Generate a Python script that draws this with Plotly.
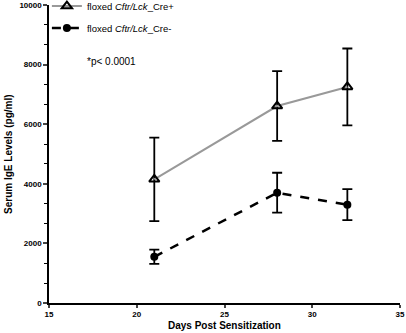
import plotly.graph_objects as go

days = [21, 28, 32]
cre_pos = [4150, 6610, 7250]
cre_pos_err = [1400, 1170, 1290]
cre_neg = [1550, 3700, 3300]
cre_neg_err = [240, 670, 520]

names = ["floxed <i>Cftr/Lck</i>_Cre+", "floxed <i>Cftr/Lck</i>_Cre-"]
x_ticks = [15, 20, 25, 30, 35]
y_ticks = [0, 2000, 4000, 6000, 8000, 10000]
y_tick_text = [str(v) for v in y_ticks]
pval_text = "*p< 0.0001"
x_title = "<b>Days Post Sensitization</b>"
y_title = "<b>Serum IgE Levels (pg/ml)</b>"

FONT = "Liberation Sans, Arial, sans-serif"

fig = go.Figure()
fig.add_trace(go.Scatter(
    x=days, y=cre_pos, name=names[0], legendgroup="a",
    mode="lines+markers",
    line=dict(color="#999999", width=2),
    marker=dict(symbol="triangle-up-open", size=9, color="black", line=dict(width=2, color="black")),
    error_y=dict(type="data", array=cre_pos_err, color="black", thickness=1.8, width=5),
))
fig.add_trace(go.Scatter(
    x=days, y=cre_neg, name=names[1], legendgroup="b",
    mode="lines+markers",
    line=dict(color="black", width=2.5, dash="dash"),
    marker=dict(symbol="circle", size=8, color="black"),
    error_y=dict(type="data", array=cre_neg_err, color="black", thickness=1.8, width=5),
))

fig.add_annotation(
    text=pval_text, xref="paper", yref="paper", x=0.103, y=0.81,
    xanchor="left", yanchor="middle", showarrow=False,
    font=dict(family=FONT, size=10, color="black"),
)
fig.add_annotation(
    text=x_title, xref="paper", yref="paper", x=0.5, y=-0.074,
    xanchor="center", yanchor="middle", showarrow=False,
    font=dict(family=FONT, size=10, color="black"),
)
fig.add_annotation(
    text=y_title, xref="paper", yref="paper", x=-0.117, y=0.5,
    xanchor="center", yanchor="middle", showarrow=False, textangle=-90,
    font=dict(family=FONT, size=10, color="black"),
)

fig.update_layout(
    width=406, height=333,
    margin=dict(l=49, r=6, t=5, b=30, autoexpand=False),
    paper_bgcolor="white", plot_bgcolor="white",
    font=dict(family=FONT, color="black"),
    showlegend=True,
    hovermode=False,
    legend=dict(
        x=-0.006, y=1.045, xanchor="left", yanchor="top",
        bgcolor="rgba(0,0,0,0)", font=dict(family=FONT, size=9.5),
        traceorder="grouped", tracegroupgap=3, itemwidth=30,
    ),
    xaxis=dict(
        range=[15, 35], tickvals=x_ticks, ticks="outside", ticklen=3, tickwidth=1.5,
        showline=True, linecolor="black", linewidth=1.5, showgrid=False, zeroline=False,
        tickfont=dict(family=FONT, size=8, weight="bold"), automargin=False,
    ),
    yaxis=dict(
        range=[0, 10000], tickvals=y_ticks, ticktext=y_tick_text, ticks="outside", ticklen=4, tickwidth=1.5,
        showline=True, linecolor="black", linewidth=1.5, showgrid=False, zeroline=False,
        tickfont=dict(family=FONT, size=8, weight="bold"), automargin=False,
        minor=dict(dtick=2000/3, ticks="outside", ticklen=3, tickwidth=1, tickcolor="black", showgrid=False),
    ),
)

fig.write_html(
    "out.html",
    config={"displayModeBar": False},
    post_script="document.body.style.margin='0';document.body.style.overflow='hidden';",
)
